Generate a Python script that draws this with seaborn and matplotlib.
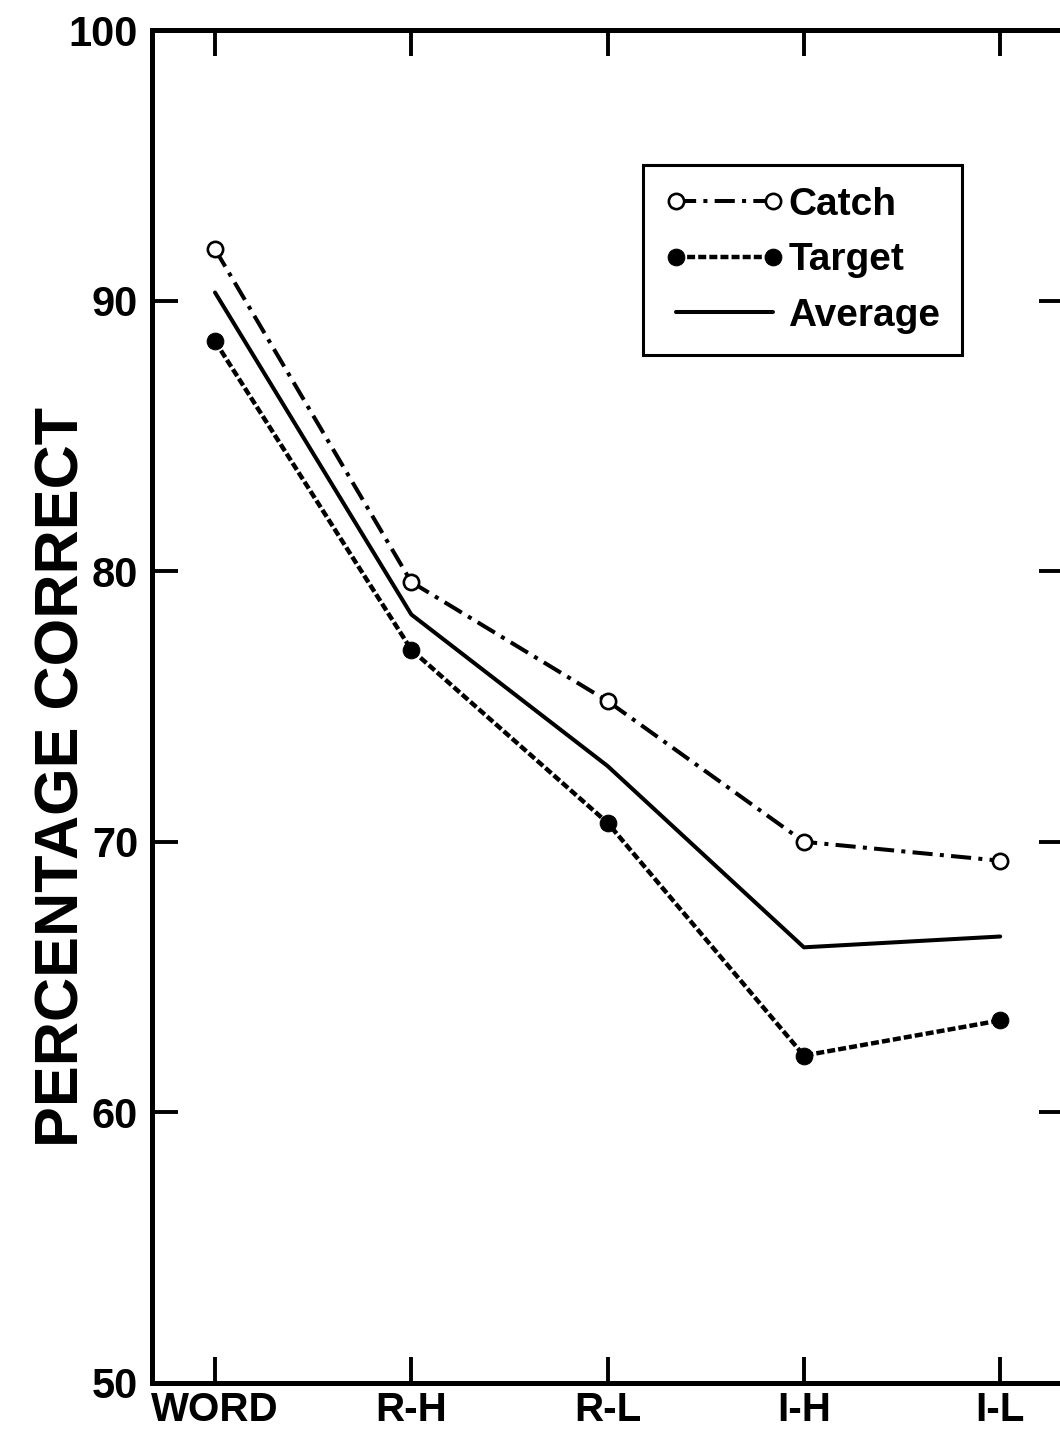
import matplotlib
matplotlib.use("Agg")
import matplotlib.pyplot as plt
import pandas as pd
import seaborn as sns

# Conditions along the x axis
conditions = ["WORD", "R-H", "R-L", "I-H", "I-L"]

# Percentage correct per condition
catch = [91.9, 79.6, 75.2, 70.0, 69.3]
target = [88.5, 77.1, 70.7, 62.1, 63.4]
average = [90.3, 78.4, 72.8, 66.1, 66.5]

y_ticks = [50, 60, 70, 80, 90, 100]
y_label = "PERCENTAGE CORRECT"

sns.set_style("ticks")
family = ["Liberation Sans", "DejaVu Sans"]
plt.rcParams["font.family"] = family
plt.rcParams["font.weight"] = "bold"
for key in ["text.color", "axes.labelcolor", "xtick.color", "ytick.color",
            "axes.edgecolor"]:
    plt.rcParams[key] = "black"

df = pd.DataFrame({"condition": conditions, "Catch": catch,
                   "Target": target, "Average": average})

fig = plt.figure(figsize=(10.6, 14.29), dpi=100)
ax = fig.add_axes([0.1434, 0.0322, 0.8613, 0.9468])

sns.lineplot(data=df, x="condition", y="Catch", ax=ax, sort=False,
             color="black", linewidth=2.9,
             marker="o", markersize=11, markerfacecolor="white",
             markeredgecolor="black", markeredgewidth=1.9, label="Catch")
sns.lineplot(data=df, x="condition", y="Target", ax=ax, sort=False,
             color="black", linewidth=3.2, marker="o", markersize=12,
             markerfacecolor="black", markeredgecolor="black",
             label="Target")
sns.lineplot(data=df, x="condition", y="Average", ax=ax, sort=False,
             color="black", linewidth=2.9, label="Average")

lines = ax.get_lines()
lines[0].set_dashes((5.0, 1.8, 1.0, 1.8))
lines[1].set_dashes((1.8, 0.7))

ax.set_xlim(-0.321, 4.33)
ax.set_ylim(50, 100)
ax.set_yticks(y_ticks)
ax.set_xlabel("")
ax.set_ylabel(y_label, fontsize=44, fontweight="bold", color="black")
ax.yaxis.set_label_coords(-0.066, 0.448)

for side in ["left", "right", "top", "bottom"]:
    ax.spines[side].set_visible(True)
    ax.spines[side].set_linewidth(3.6)
    ax.spines[side].set_color("black")

ax.tick_params(axis="both", direction="in", length=19, width=2.8,
               top=True, right=True, color="black", labelcolor="black")
ax.tick_params(axis="y", labelsize=30, pad=10)
ax.tick_params(axis="x", labelsize=29, pad=6)
for lab in ax.get_xticklabels() + ax.get_yticklabels():
    lab.set_fontweight("bold")

leg = ax.legend(loc="upper right", bbox_to_anchor=(0.887, 0.900),
                borderaxespad=0, numpoints=2, handlelength=3.1,
                handletextpad=0.1, labelspacing=0.5, borderpad=0.55,
                fancybox=False, frameon=True, edgecolor="black",
                prop={"family": family, "weight": "bold", "size": 28})
leg.get_frame().set_linewidth(2.2)
leg.get_frame().set_alpha(1)
for txt in leg.get_texts():
    txt.set_color("black")

fig.savefig("out.png", dpi=100, facecolor="white")
